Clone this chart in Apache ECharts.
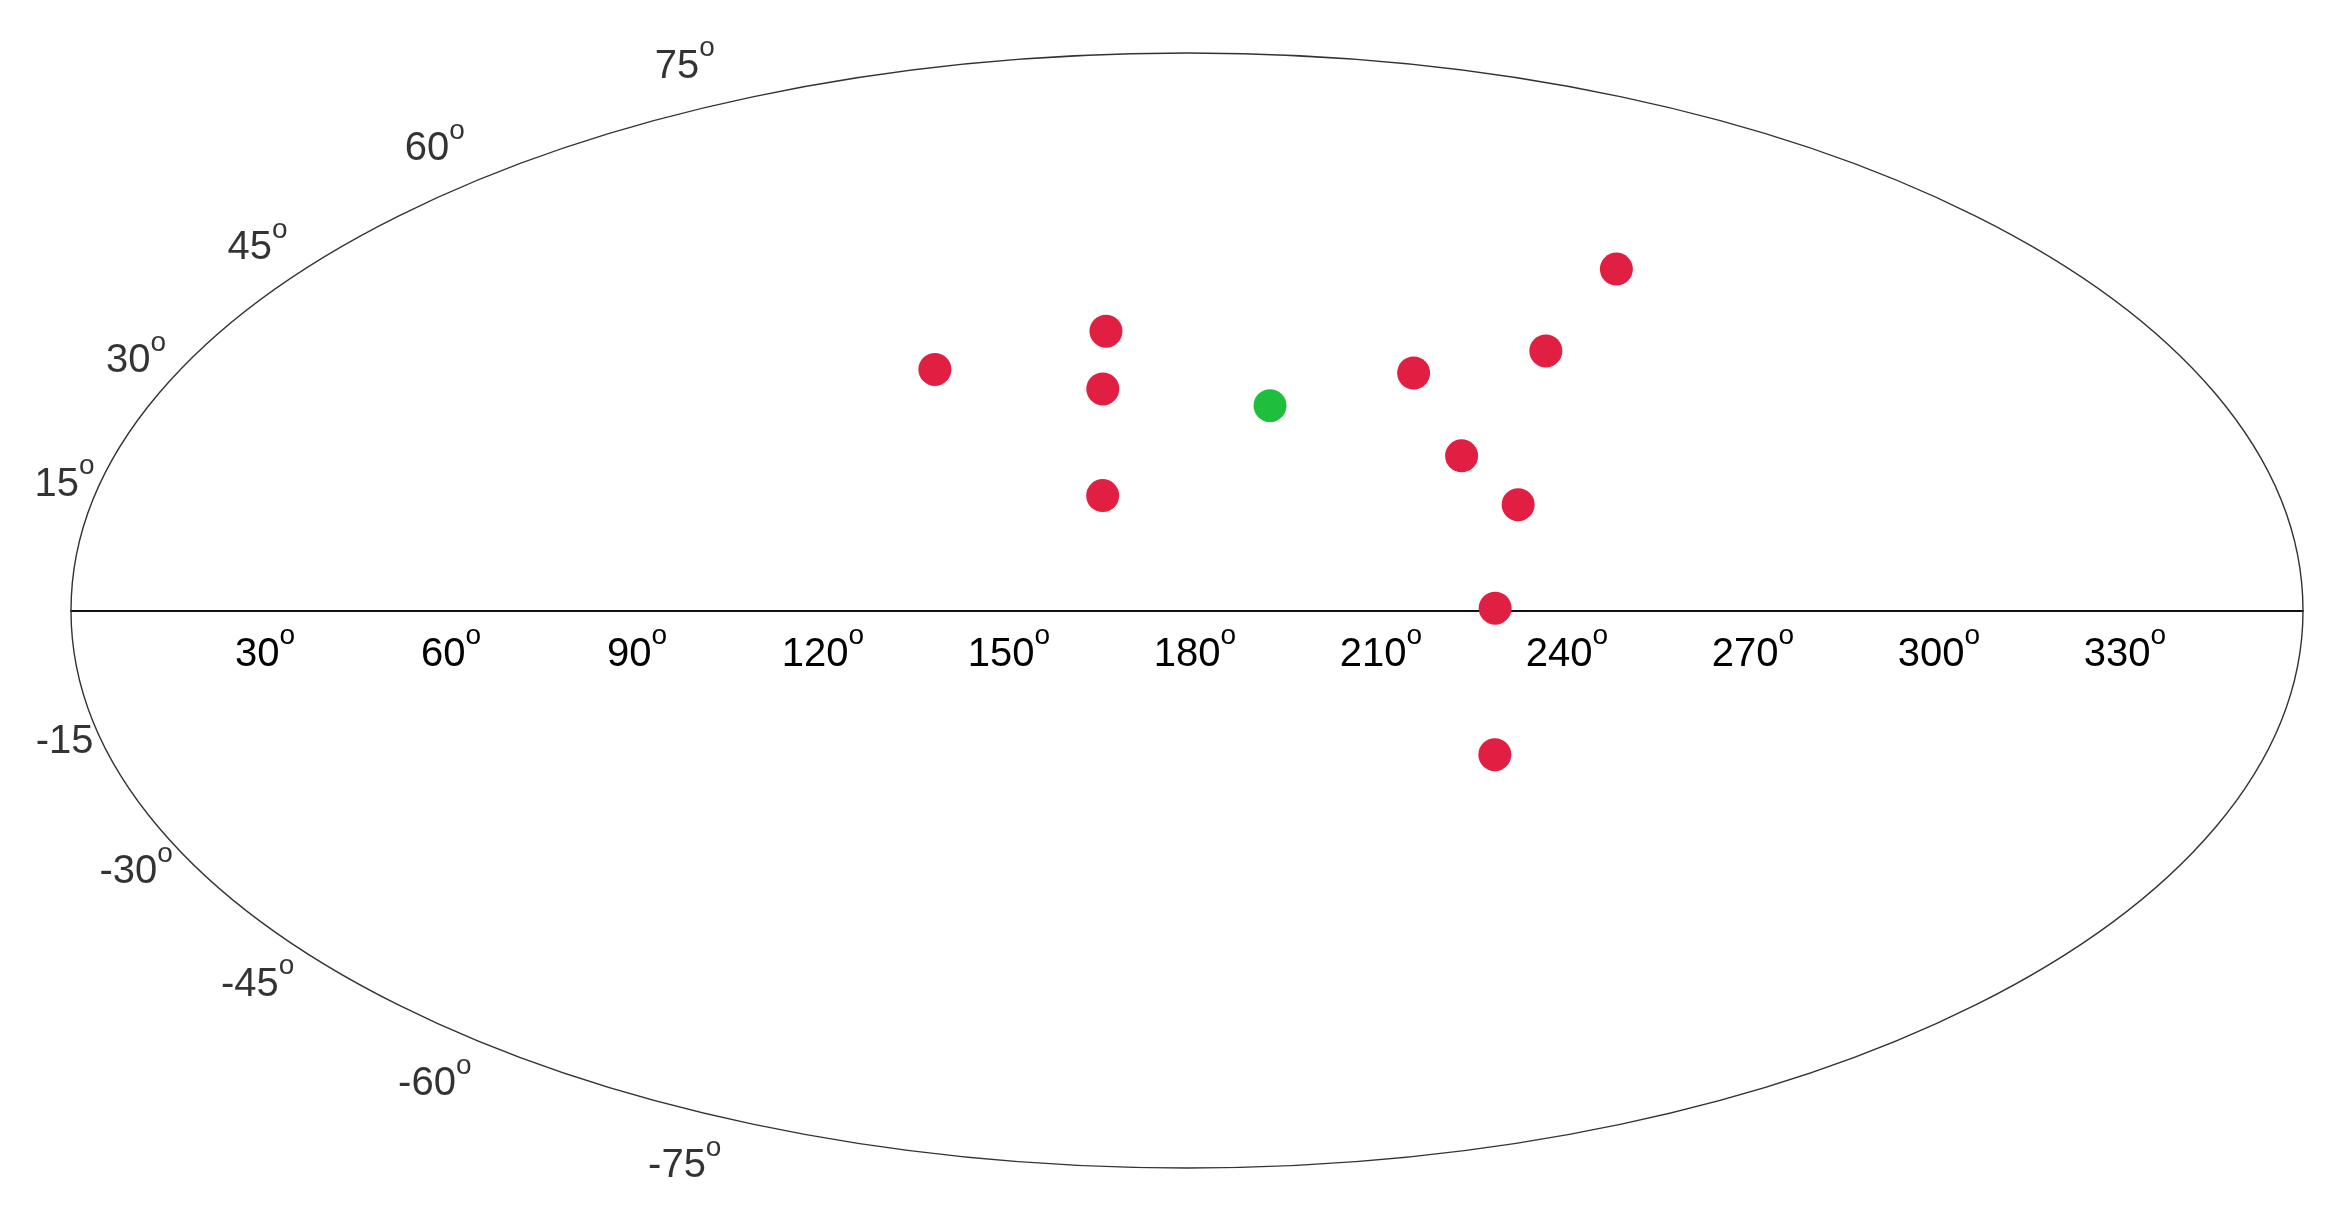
<!DOCTYPE html>
<html><head><meta charset="utf-8">
<script src="https://cdn.jsdelivr.net/npm/echarts@6/dist/echarts.min.js"></script>
<style>html,body{margin:0;padding:0;background:#fff;overflow:hidden}#c{width:2331px;height:1215px}</style>
</head><body><div id="c"></div>
<script>
// ---- data ----
const lonTicks = [30, 60, 90, 120, 150, 180, 210, 240, 270, 300, 330];
const latTicks = [75, 60, 45, 30, 15, -15, -30, -45, -60, -75];
const latTickText = ['75', '60', '45', '30', '15', '-15', '-30', '-45', '-60', '-75'];
const latTickDegree = [true, true, true, true, true, false, true, true, true, true];
const redLon = [134.9, 164.9, 165.2, 166.1, 220.4, 245.4, 267.6, 226.1, 234.4, 229.7, 231.4];
const redLat = [32.2, 37.6, 29.5, 15.1, 31.7, 34.8, 46.7, 20.4, 13.9, 0.3, -19.0];
const greenLon = [194.4];
const greenLat = [27.2];

// ---- Mollweide projection helpers ----
function auxAngle(latDeg) {
  if (Math.abs(latDeg) >= 90) return Math.sign(latDeg) * Math.PI / 2;
  const phi = latDeg * Math.PI / 180;
  let t = phi;
  for (let i = 0; i < 60; i++) {
    const f = 2 * t + Math.sin(2 * t) - Math.PI * Math.sin(phi);
    const d = 2 + 2 * Math.cos(2 * t);
    if (Math.abs(d) < 1e-12) break;
    t -= f / d;
  }
  return t;
}
function project(lon, lat) {
  const t = auxAngle(lat);
  return [180 + (lon - 180) * Math.cos(t), Math.sin(t)];
}

const G = { left: 71, right: 28, top: 53, bottom: 47 };
const W = 2331, H = 1215;
const A = (W - G.left - G.right) / 2;   // half width in px
const B = (H - G.top - G.bottom) / 2;   // half height in px

const FONT = 'Liberation Sans, Arial, sans-serif';
const rich = {
  n: { fontFamily: FONT, fontSize: 40, color: '#000', lineHeight: 52, verticalAlign: 'bottom' },
  m: { fontFamily: FONT, fontSize: 40, color: '#000', lineHeight: 40 },
  s: { fontFamily: FONT, fontSize: 28, color: '#000', verticalAlign: 'top' }
};

const redData = redLon.map((lon, i) => project(lon, redLat[i]));
const greenData = greenLon.map((lon, i) => project(lon, greenLat[i]));

const latLabelData = latTicks.map((lat, i) => {
  const t = auxAngle(lat);
  const c = Math.cos(t), s = Math.sin(t);
  let nx = -c / A, ny = -s / B;
  const L = Math.hypot(nx, ny); nx /= L; ny /= L;
  return {
    value: [180 - 180 * c, s],
    label: {
      offset: [-30, ny * 46],
      formatter: latTickDegree[i] ? '{n|' + latTickText[i] + '}{s|o}' : '{m|' + latTickText[i] + '}'
    }
  };
});

const chart = echarts.init(document.getElementById('c'), null, { renderer: 'canvas' });
const option = {
  animation: false,
  backgroundColor: '#fff',
  grid: { left: G.left, right: G.right, top: G.top, bottom: G.bottom, containLabel: false, outerBoundsMode: 'none' },
  xAxis: {
    type: 'value', min: 0, max: 360, interval: 30,
    position: 'bottom', offset: -B,
    axisLine: { show: true, onZero: false, lineStyle: { color: '#111', width: 2 } },
    axisTick: { show: false },
    splitLine: { show: false },
    axisLabel: {
      show: true, margin: 12, padding: [0, 0, 0, 16], rich: rich,
      formatter: function (v) { return lonTicks.indexOf(v) >= 0 ? '{n|' + v + '}{s|o}' : ''; }
    }
  },
  yAxis: {
    type: 'value', min: -1, max: 1, show: true,
    axisLine: { show: false }, axisTick: { show: false }, axisLabel: { show: false },
    splitLine: { show: false }
  },
  series: [
    {
      type: 'scatter', name: 'red', z: 5, symbol: 'circle', symbolSize: 33,
      itemStyle: { color: '#E11F42', opacity: 1 }, data: redData, silent: true
    },
    {
      type: 'scatter', name: 'green', z: 5, symbol: 'circle', symbolSize: 33,
      itemStyle: { color: '#1FBF3D', opacity: 1 }, data: greenData, silent: true
    },
    {
      type: 'scatter', name: 'latLabels', z: 6, symbolSize: 0, silent: true,
      label: { show: true, position: 'inside', align: 'center', verticalAlign: 'middle', rich: rich },
      data: latLabelData
    }
  ]
};
chart.setOption(option);
const p0 = chart.convertToPixel({ gridIndex: 0 }, [0, 1]);
const p1 = chart.convertToPixel({ gridIndex: 0 }, [360, -1]);
chart.setOption({
  graphic: [{
    type: 'ellipse', z: 1, silent: true,
    shape: { cx: (p0[0] + p1[0]) / 2, cy: (p0[1] + p1[1]) / 2, rx: (p1[0] - p0[0]) / 2, ry: (p1[1] - p0[1]) / 2 },
    style: { fill: 'none', stroke: '#333', lineWidth: 1.4 }
  }]
});
</script></body></html>
